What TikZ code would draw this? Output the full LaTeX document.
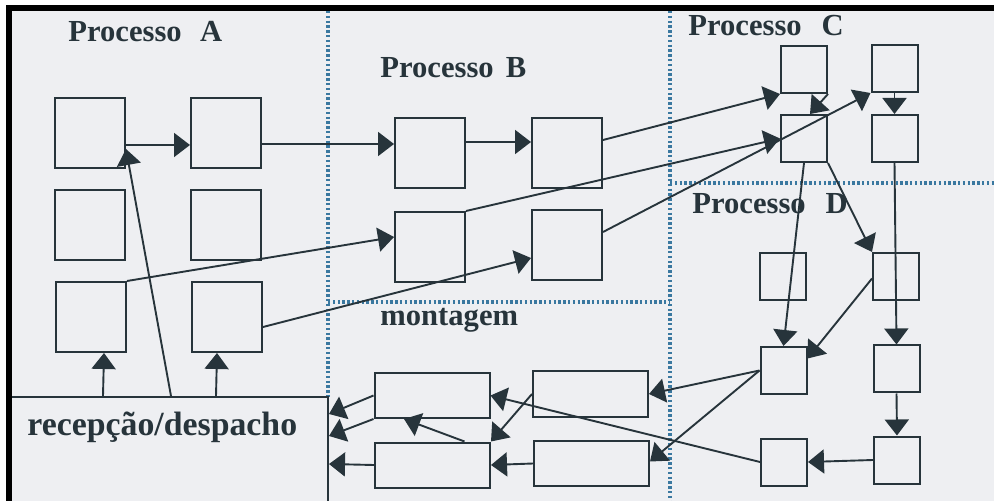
\documentclass[tikz,border=0pt]{standalone}
\usepackage{fontspec}
\setmainfont{Liberation Serif}
\usetikzlibrary{arrows.meta,calc}
\definecolor{paper}{HTML}{EEEFF2}
\definecolor{ink}{HTML}{27343B}
\definecolor{grid}{HTML}{3A78A0}
\tikzset{
  box/.style={draw=ink, line width=1pt, minimum width=35pt, minimum height=35pt, inner sep=0pt},
  sbox/.style={box, minimum width=23pt, minimum height=23.5pt},
  wbox/.style={box, minimum width=57.5pt, minimum height=22.5pt},
  link/.style={draw=ink, line width=0.95pt, -{Triangle[length=8pt,width=12pt]}},
  divider/.style={draw=grid, line width=1.6pt, dash pattern=on 1.2pt off 1.2pt},
  title/.style={font=\bfseries\fontsize{15.3}{18}\selectfont, text=ink, inner sep=0pt, anchor=base west},
}
\begin{document}
\begin{tikzpicture}[x=0.5pt,y=-0.5pt]
\useasboundingbox (0,0) rectangle (994,501);
\fill[white] (0,0) rectangle (994,501);
\fill[paper] (6,5) rectangle (994,501);

% dotted dividers between the process areas
\draw[divider] (328,11) -- (328,397);
\draw[divider] (670,11) -- (670,501);
\draw[divider] (328,302) -- (670,302);
\draw[divider] (670,183) -- (994,183);

% area titles
\node[title] (tA) at (68,42) {Processo\hspace{0.6em}A};
\node[title] (tB) at (380,78) {Processo\hspace{0.4em}B};
\node[title] (tC) at (688,36) {Processo\hspace{0.65em}C};
\node[title] (tD) at (692,214) {Processo\hspace{0.65em}D};
\node[title] (tM) at (380,326) {montagem};

% receiving / dispatch area
\node[draw=ink, line width=1pt, minimum width=160pt, minimum height=59pt, inner sep=0pt] (rd) at (168,456) {};
\node[title, font=\bfseries\fontsize{16.9}{20}\selectfont] (tR) at (27,436) {recepção/despacho};

% Processo A
\node[box] (A1) at (90,133) {};
\node[box] (A2) at (226,133) {};
\node[box] (A3) at (90,225) {};
\node[box] (A4) at (226,225) {};
\node[box] (A5) at (91,317) {};
\node[box] (A6) at (227,317) {};

% Processo B
\node[box] (B1) at (430,153) {};
\node[box] (B2) at (567,153) {};
\node[box] (B3) at (430,247) {};
\node[box] (B4) at (567,245) {};

% Processo C
\node[sbox] (C1) at (804,69.5) {};
\node[sbox] (C2) at (804,138.5) {};
\node[sbox] (C3) at (894.5,68.5) {};
\node[sbox] (C4) at (894.5,138.5) {};

% Processo D
\node[sbox] (D1) at (782.5,277) {};
\node[sbox] (D2) at (896,276.5) {};
\node[sbox] (D3) at (783.5,370.5) {};
\node[sbox] (D4) at (896.5,369) {};
\node[sbox] (D5) at (784,462) {};
\node[sbox] (D6) at (897,460) {};

% montagem
\node[wbox] (M1) at (432,395.5) {};
\node[wbox] (M2) at (432.5,465) {};
\node[wbox] (M3) at (590.5,394) {};
\node[wbox] (M4) at (591.5,463.5) {};

% flows in Processo A and B
\draw[link] ($(A1.east)+(0,12)$) -- ($(A2.west)+(0,12)$);
\draw[link] ($(A2.east)+(0,11)$) -- ($(B1.west)+(0,-9)$);
\draw[link] ($(B1.east)+(0,-11)$) -- ($(B2.west)+(0,-11)$);
\draw[link] ($(rd.north west)+(164,0)$) -- ($(A1.east)+(0,16)$);
\draw[link] ($(rd.north west)+(96,0)$) -- ($(A5.south)+(13,0)$);
\draw[link] ($(rd.north west)+(209,0)$) -- ($(A6.south)+(-10,0)$);
\draw[link] (A5.north east) -- ($(B3.west)+(0,-10)$);
\draw[link] ($(A6.east)+(0,10)$) -- ($(B4.west)+(0,13)$);

% flows into Processo C
\draw[link] ($(B2.east)+(0,-13)$) -- (C1.south west);
\draw[link] (B3.north east) -- (C2.west);
\draw[link] ($(B4.east)+(0,-13)$) -- (C3.south west);
\draw[link] (C1.south east) -- ($(C2.north)+(6,0)$);
\draw[link] (C3.south) -- (C4.north);

% flows into Processo D
\draw[link] (C2.south) -- (D3.north);
\draw[link] (C2.south east) -- (D2.north west);
\draw[link] (C4.south) -- (D4.north);
\draw[link] ($(D2.west)+(0,2)$) -- ($(D3.east)+(0,-12)$);
\draw[link] (D4.south) -- (D6.north);
\draw[link] (D6.west) -- (D5.east);

% flows into montagem
\draw[link] (D3.west) -- (M3.east);
\draw[link] (D3.west) -- ($(M4.east)+(0,-2)$);
\draw[link] (D5.west) -- (M1.east);
\draw[link] (M3.west) -- (M2.north east);
\draw[link] (M4.west) -- (M2.east);
\draw[link] ($(M2.north)+(32,0)$) -- ($(M1.south)+(-28,0)$);

% flows back to recepção/despacho
\draw[link] (M1.west) -- ($(rd.north east)+(0,18)$);
\draw[link] (M1.south west) -- ($(rd.north east)+(0,40)$);
\draw[link] (M2.west) -- ($(rd.north east)+(0,68)$);

% black frame
\fill[black] (6,5) rectangle (994,11);
\fill[black] (6,5) rectangle (12,501);
\end{tikzpicture}
\end{document}
